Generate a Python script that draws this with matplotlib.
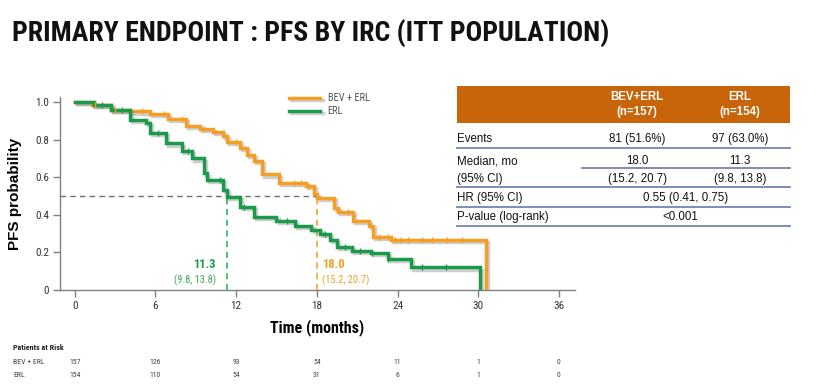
import numpy as np
import matplotlib
matplotlib.use("Agg")
import matplotlib.pyplot as plt
import matplotlib.patheffects as pe
from matplotlib.patches import Rectangle
from matplotlib.lines import Line2D
from matplotlib.transforms import blended_transform_factory
from matplotlib import font_manager

# ---------------- data ----------------
bev_times = [0, 1.3, 2.7, 4.1, 5.6, 6.9, 8.3, 9.3, 10.3, 11.0, 11.3, 12.3, 12.8, 13.3, 13.9,
             15.2, 17.2, 17.8, 18.0, 19.3, 19.6, 20.7, 21.9, 22.2, 23.5, 30.6]
bev_surv = [1.0, 0.985, 0.96, 0.95, 0.935, 0.91, 0.875, 0.855, 0.84, 0.82, 0.79, 0.755, 0.72, 0.685, 0.615,
            0.57, 0.555, 0.51, 0.49, 0.435, 0.415, 0.365, 0.34, 0.28, 0.265, 0.0]
bev_censor = [1.5, 3.0, 5.0, 6.6, 8.0, 9.6, 12.0, 16.3, 16.8, 17.4, 20.3, 22.6, 23.3, 23.8, 24.2,
              24.8, 25.8, 26.6, 27.7, 28.8]

erl_times = [0, 1.4, 2.7, 4.1, 5.3, 5.6, 6.8, 8.0, 8.7, 9.6, 9.8, 11.0, 11.3, 12.3, 13.3, 15.0,
             16.4, 17.6, 18.2, 19.0, 19.5, 20.6, 22.0, 23.3, 25.0, 30.1]
erl_surv = [1.0, 0.985, 0.96, 0.905, 0.888, 0.835, 0.78, 0.74, 0.70, 0.62, 0.585, 0.53, 0.495, 0.44, 0.39, 0.365,
            0.34, 0.32, 0.30, 0.265, 0.23, 0.21, 0.197, 0.165, 0.12, 0.0]
erl_censor = [2.0, 3.5, 6.2, 8.4, 10.8, 12.6, 15.8, 18.6, 20.1, 21.2, 22.1, 23.3, 25.8, 27.6]

median_bev, ci_bev = 18.0, "(15.2, 20.7)"
median_erl, ci_erl = 11.3, "(9.8, 13.8)"

x_ticks = [0, 6, 12, 18, 24, 30, 36]
y_ticks = [0, 0.2, 0.4, 0.6, 0.8, 1.0]
y_labels = ["0", "0.2", "0.4", "0.6", "0.8", "1.0"]

risk_bev = [157, 126, 93, 54, 11, 1, 0]
risk_erl = [154, 110, 54, 31, 6, 1, 0]

table_cols = ["BEV+ERL\n(n=157)", "ERL\n(n=154)"]
events = ["81 (51.6%)", "97 (63.0%)"]
medians = ["18.0", "11.3"]
median_cis = ["(15.2, 20.7)", "(9.8, 13.8)"]
hr_text = "0.55 (0.41, 0.75)"
pval_text = "<0.001"

# ---------------- style ----------------
avail = {f.name for f in font_manager.fontManager.ttflist}


def pick(cands):
    got = [f for f in cands if f in avail]
    return got + ["DejaVu Sans"]


narrow = pick(["Liberation Sans Narrow", "Arial Narrow", "Roboto Condensed", "Archivo Narrow",
               "PT Sans Narrow", "Liberation Sans"])
regular = pick(["Liberation Sans", "Arimo"])
plt.rcParams['font.family'] = narrow

ORANGE = "#F59E25"
GREEN = "#1B9A4B"
HEADER = "#C8640A"
LINEC = "#7483B3"
W, H = 816, 392


def fx(x):
    return x / W


def fy(y):
    return 1 - y / H


fig = plt.figure(figsize=(W / 100, H / 100), dpi=100)
fig.patch.set_facecolor("white")

ax = fig.add_axes([fx(60), fy(290), fx(575) - fx(60), fy(97) - fy(290)])
ax.set_xlim(-1.1, 37.2)
ax.set_ylim(0, 1.027)

shadow = [pe.SimpleLineShadow(offset=(1.5, -1.5), shadow_color="#777777", alpha=0.35), pe.Normal()]


def step_value(times, surv, t):
    i = np.searchsorted(times, t, side="right") - 1
    return surv[i]


for times, surv, cens, col, lab in [(bev_times, bev_surv, bev_censor, ORANGE, "BEV + ERL"),
                                    (erl_times, erl_surv, erl_censor, GREEN, "ERL")]:
    ax.step(times, surv, where="post", color=col, lw=2.5, label=lab, path_effects=shadow,
            solid_joinstyle="miter", zorder=4)
    cy = [step_value(times, surv, t) for t in cens]
    ax.plot(cens, cy, linestyle="none", marker="|", ms=5, mew=1.0, color=col, zorder=5)

# median reference lines
ax.plot([-1.1, median_bev], [0.5, 0.5], color="#707070", lw=1.0, ls=(0, (4, 3)), zorder=3)
ax.plot([median_erl, median_erl], [0, 0.5], color="#22B050", lw=1.1, ls=(0, (4, 3)), zorder=3)
ax.plot([median_bev, median_bev], [0, 0.5], color=ORANGE, lw=1.1, ls=(0, (4, 3)), zorder=3)

ax.text(median_erl - 0.8, 0.138, f"{median_erl:.1f}", color=GREEN, fontsize=9, fontweight="bold",
        ha="right", va="center")
ax.text(median_erl - 0.8, 0.052, ci_erl, color="#3aa860", fontsize=7.5, ha="right", va="center")
ax.text(median_bev + 0.4, 0.138, f"{median_bev:.1f}", color=ORANGE, fontsize=9, fontweight="bold",
        ha="left", va="center")
ax.text(median_bev + 0.4, 0.052, ci_bev, color=ORANGE, fontsize=7.5, ha="left", va="center")

ax.set_xticks(x_ticks)
ax.set_yticks(y_ticks)
ax.set_yticklabels(y_labels)
for s in ["top", "right"]:
    ax.spines[s].set_visible(False)
for s in ["left", "bottom"]:
    ax.spines[s].set_color("#808080")
    ax.spines[s].set_linewidth(1.0)
ax.tick_params(axis="both", colors="#808080", labelcolor="#333333", labelsize=8, length=5, width=1.0,
               direction="out", pad=3)

ax.set_ylabel("PFS probability", fontsize=11, fontweight="bold", family=regular, labelpad=9)
ax.set_xlabel("Time (months)", fontsize=11.5, fontweight="bold", labelpad=6)

handles, labels = ax.get_legend_handles_labels()
leg = fig.legend(handles, labels, loc="upper left", bbox_to_anchor=(fx(285), fy(89)), frameon=False,
                 fontsize=7.5, handlelength=3.0, labelspacing=0.3, handletextpad=0.7, borderaxespad=0)
for t in leg.get_texts():
    t.set_color("#555555")

# ---------------- title ----------------
fig.text(fx(12), fy(33), "PRIMARY ENDPOINT : PFS BY IRC (ITT POPULATION)", fontsize=20,
         fontweight="bold", ha="left", va="center", color="#111111")

# ---------------- table ----------------
tl, tr = 457, 790
fig.add_artist(Rectangle((fx(tl), fy(123)), fx(tr) - fx(tl), fy(86) - fy(123),
                         transform=fig.transFigure, facecolor=HEADER, edgecolor="none"))
col_x = [637, 740]
for cx, lab in zip(col_x, table_cols):
    fig.text(fx(cx), fy(104.5), lab, color="white", fontsize=8.3, fontweight="bold", ha="center",
             va="center", family=regular, linespacing=1.35)

tkw = dict(fontsize=8.3, va="center", family=regular, color="#111111")
fig.text(fx(tl), fy(139), "Events", ha="left", **tkw)
for cx, v in zip(col_x, events):
    fig.text(fx(cx), fy(139), v, ha="center", **tkw)
fig.text(fx(tl), fy(161), "Median, mo", ha="left", **tkw)
fig.text(fx(tl), fy(179), "(95% CI)", ha="left", **tkw)
for cx, v, c in zip(col_x, medians, median_cis):
    fig.text(fx(cx), fy(161), v, ha="center", **tkw)
    fig.text(fx(cx), fy(179), c, ha="center", **tkw)
fig.text(fx(tl), fy(198), "HR (95% CI)", ha="left", **tkw)
fig.text(fx(686), fy(198), hr_text, ha="center", **tkw)
fig.text(fx(tl), fy(217), "P-value (log-rank)", ha="left", **tkw)
fig.text(fx(680), fy(217), pval_text, ha="center", **tkw)

for yy, x0 in [(148, tl), (168, 582), (187, tl), (207, tl), (226, tl)]:
    fig.add_artist(Line2D([fx(x0), fx(tr)], [fy(yy), fy(yy)], transform=fig.transFigure,
                          color=LINEC, lw=1.3))

# ---------------- patients at risk ----------------
fig.text(fx(13), fy(347), "Patients at Risk", fontsize=5.8, fontweight="bold", ha="left", va="center",
         color="#222222")
bt = blended_transform_factory(ax.transData, fig.transFigure)
for yy, name, vals in [(362, "BEV + ERL", risk_bev), (375, "ERL", risk_erl)]:
    fig.text(fx(13), fy(yy), name, fontsize=5.6, ha="left", va="center", color="#444444")
    for t, v in zip(x_ticks, vals):
        ax.text(t, fy(yy), str(v), transform=bt, fontsize=5.6, ha="center", va="center", color="#444444",
                clip_on=False)

fig.savefig("out.png", dpi=100)
